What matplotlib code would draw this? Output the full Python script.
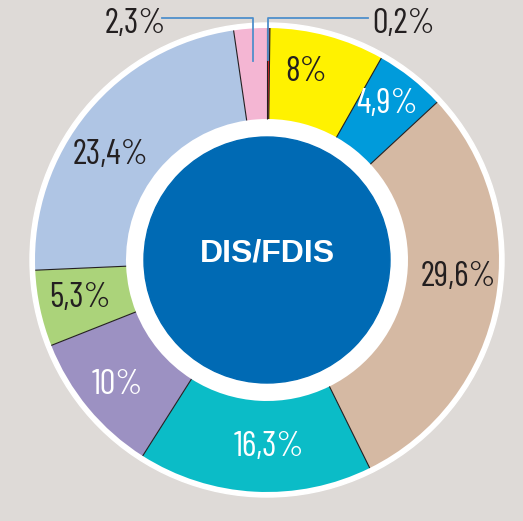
import numpy as np
import matplotlib.pyplot as plt
from matplotlib.patches import Circle

# shares of DIS/FDIS, clockwise from the top
labels = ['0,2%', '8%', '4,9%', '29,6%', '16,3%', '10%', '5,3%', '23,4%', '2,3%']
values = [0.2, 8.0, 4.9, 29.6, 16.3, 10.0, 5.3, 23.4, 2.3]
colors = ['#e3262a', '#fff200', '#009bdb', '#d5b9a3', '#0bbcc7',
          '#9c91c2', '#abd37a', '#afc5e4', '#f4b6d3']
text_colors = ['#231f20', '#231f20', 'white', '#231f20', 'white',
               'white', '#231f20', '#231f20', '#231f20']
# label centres in pixels from the top-left corner
label_pos = [(404, 24), (306, 72), (387, 104), (458, 277), (269, 447),
             (117, 385), (80, 298), (111, 155), (135, 24)]

W, H = 523, 521
cx, cy = 267, H - 260
r_out, r_in, r_center = 232, 141, 123
label_font = ['Barlow Condensed', 'DejaVu Sans']

fig = plt.figure(figsize=(W / 100, H / 100), dpi=100)
fig.patch.set_facecolor('#dedad7')
ax = fig.add_axes([0, 0, 1, 1])
ax.set_facecolor('#dedad7')

# white rim round the ring
ax.add_patch(Circle((cx, cy), r_out + 5, color='white', zorder=1))

wedges, _ = ax.pie(values, colors=colors, startangle=90, counterclock=False,
                   radius=r_out, center=(cx, cy),
                   wedgeprops=dict(width=r_out - r_in, linewidth=0))
for w in wedges:
    w.set_zorder(2)

# thin dark separators between the segments
cum = np.concatenate([[0], np.cumsum(values)])
for c in cum[:-1]:
    th = np.deg2rad(90 - 360 * c / 100)
    ax.plot([cx + r_in * np.cos(th), cx + r_out * np.cos(th)],
            [cy + r_in * np.sin(th), cy + r_out * np.sin(th)],
            color='#231f20', lw=0.8, zorder=3, solid_capstyle='butt')

ax.add_patch(Circle((cx, cy), r_center, color='#006ab4', zorder=4))
ax.text(cx, H - 253, 'DIS/FDIS', color='white', fontsize=23, fontweight='bold',
        family=['Liberation Sans', 'DejaVu Sans'], ha='center', va='center', zorder=5)

for lab, (px, py), tc in zip(labels, label_pos, text_colors):
    ax.text(px, H - py, lab, color=tc, fontsize=25, family=label_font,
            ha='center', va='center', zorder=5)

# leader lines for the two thin slices
lead_y = H - 18
for i, x_end in [(0, 368), (8, 162)]:
    th = np.deg2rad(90 - 360 * (cum[i] + values[i] / 2) / 100)
    x0 = cx + 200 * np.cos(th)
    y0 = cy + 200 * np.sin(th)
    ax.plot([x0, x0, x_end], [y0, lead_y, lead_y], color='#4f8fcb',
            lw=1.3, zorder=6)

ax.set_xlim(0, W)
ax.set_ylim(0, H)
ax.set_aspect('auto')
ax.axis('off')

fig.savefig('out.png', dpi=100, facecolor=fig.get_facecolor())
